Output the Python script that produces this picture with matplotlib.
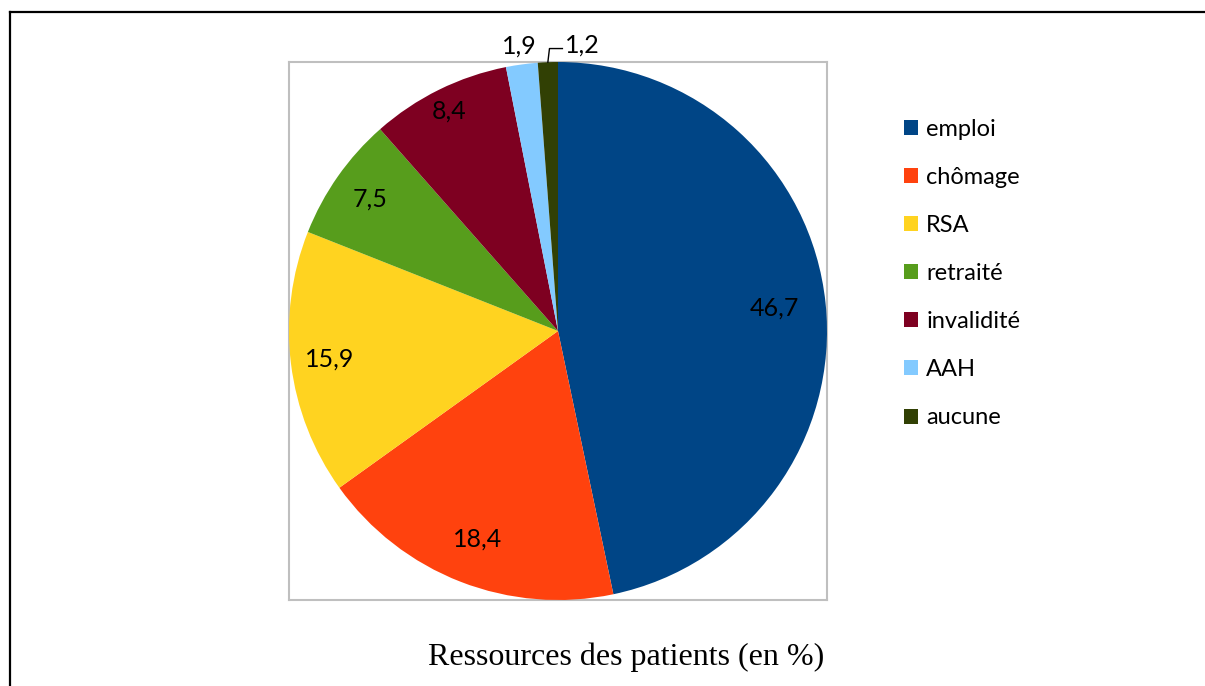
import numpy as np
import matplotlib.pyplot as plt
from matplotlib.patches import Patch
from matplotlib.lines import Line2D

categories = ['emploi', 'chômage', 'RSA', 'retraité', 'invalidité', 'AAH', 'aucune']
values = [46.7, 18.4, 15.9, 7.5, 8.4, 1.9, 1.2]
labels = ['46,7', '18,4', '15,9', '7,5', '8,4', '1,9', '1,2']
colors = ['#004586', '#ff420e', '#ffd320', '#579d1c', '#7e0021', '#83caff', '#314004']
title = 'Ressources des patients (en %)'

# label distance from centre (pie radius = 1)
label_dist = [0.81, 0.83, 0.855, 0.855, 0.91, 1.07, None]

W, H = 1205, 686
fig = plt.figure(figsize=(W / 100, H / 100), dpi=100)

# outer frame (left + top only)
fig.add_artist(Line2D([10 / W, 10 / W], [0, 1 - 12 / H], color='black', lw=1.6,
                      transform=fig.transFigure))
fig.add_artist(Line2D([10 / W, 1], [1 - 12 / H, 1 - 12 / H], color='black', lw=1.6,
                      transform=fig.transFigure))

ax = fig.add_axes([289 / W, 86 / H, 538 / W, 538 / H])
wedges, _ = ax.pie(values, colors=colors, startangle=90, counterclock=False,
                   radius=1, wedgeprops=dict(linewidth=0), frame=True)
ax.set_xlim(-1, 1)
ax.set_ylim(-1, 1)
ax.set_aspect('equal')
ax.set_xticks([])
ax.set_yticks([])
for s in ax.spines.values():
    s.set_color('#bfbfbf')
    s.set_linewidth(1.5)
    s.set_zorder(0)

font = 'Lato'
for w, lab, d in zip(wedges, labels, label_dist):
    a = np.deg2rad((w.theta1 + w.theta2) / 2)
    if d is not None:
        ax.text(d * np.cos(a), d * np.sin(a), lab, ha='center', va='center',
                fontsize=18, family=font, color='black')
    else:
        # small slice: label outside with leader line
        x0, y0 = np.cos(a), np.sin(a)
        x1, y1 = x0 + 0.006, 1.05
        x2 = x1 + 0.048
        ax.plot([x0, x1, x2], [y0, y1, y1], color='black', lw=1, clip_on=False)
        ax.text(x2 + 0.008, y1 + 0.012, lab, ha='left', va='center',
                fontsize=18, family=font, color='black')

handles = [Patch(facecolor=c, edgecolor='none') for c in colors]
fig.legend(handles, categories, loc='center left',
           bbox_to_anchor=(904 / W, 1 - 273.5 / H), frameon=False,
           prop=dict(family=font, size=17), handlelength=0.6, handleheight=0.6,
           handletextpad=0.34, labelspacing=1.15, borderpad=0, borderaxespad=0)

fig.text(626 / W, 1 - 657 / H, title, ha='center', va='center',
         fontsize=23, family='Liberation Serif')

fig.savefig('out.png', dpi=100)
